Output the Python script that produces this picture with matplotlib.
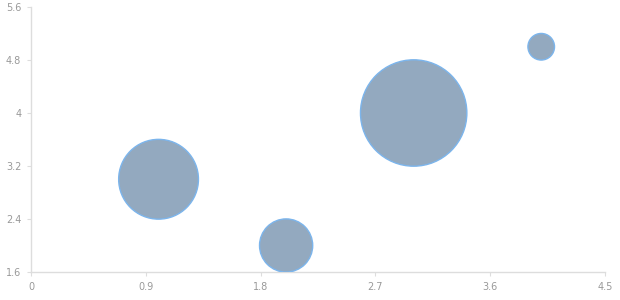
import numpy as np
import matplotlib
matplotlib.use("Agg")
import matplotlib.pyplot as plt

# bubble data
x_vals = [1, 2, 3, 4]
y_vals = [3, 2, 4, 5]
size_vals = [3, 2, 4, 1]

x_ticks = [0, 0.9, 1.8, 2.7, 3.6, 4.5]
x_labels = ["0", "0.9", "1.8", "2.7", "3.6", "4.5"]
y_ticks = [1.6, 2.4, 3.2, 4, 4.8, 5.6]
y_labels = ["1.6", "2.4", "3.2", "4", "4.8", "5.6"]

DPI = 100
fig = plt.figure(figsize=(6.2, 3.0), dpi=DPI)
ax = fig.add_axes([31/620., 28/300., 574/620., 265/300.])

# radius in px ~ 13.3 per size unit -> marker area in pt^2
r_px = np.array(size_vals) * 13.3
s = (2 * r_px * 72. / DPI) ** 2

ax.scatter(x_vals, y_vals, s=s, c='#93a9bf', edgecolors='#7cb5ec', linewidths=1.0, zorder=3)

ax.set_xlim(0, 4.5)
ax.set_ylim(1.6, 5.6)
ax.set_xticks(x_ticks)
ax.set_xticklabels(x_labels)
ax.set_yticks(y_ticks)
ax.set_yticklabels(y_labels)

for side in ['top', 'right']:
    ax.spines[side].set_visible(False)
for side in ['left', 'bottom']:
    ax.spines[side].set_color('#dddddd')
    ax.spines[side].set_linewidth(1.0)

ax.tick_params(axis='both', colors='#dddddd', labelcolor='#999999', labelsize=7,
               length=3, width=0.8, pad=4)

plt.savefig('out.png', dpi=DPI)
